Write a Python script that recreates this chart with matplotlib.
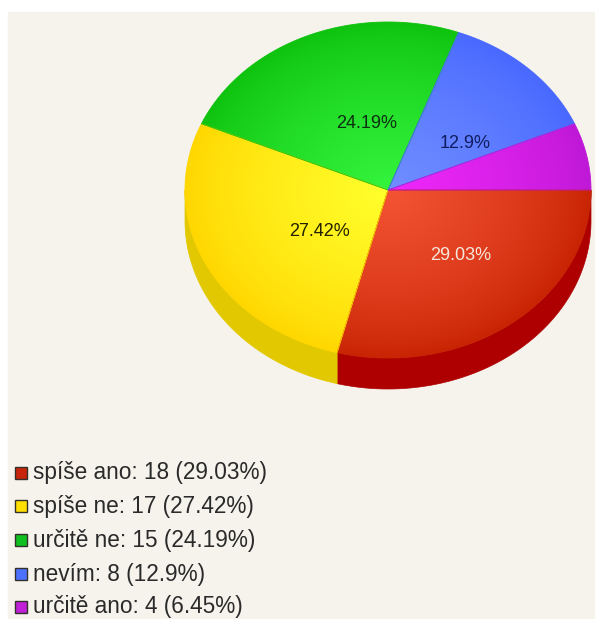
import numpy as np
import matplotlib
matplotlib.use("Agg")
import matplotlib.pyplot as plt
from matplotlib.patches import Polygon, Rectangle

plt.rcParams["font.family"] = ["Liberation Sans", "DejaVu Sans"]

categories = ["spíše ano", "spíše ne", "určitě ne", "nevím", "určitě ano"]
counts = [18, 17, 15, 8, 4]
percents = ["29.03", "27.42", "24.19", "12.9", "6.45"]

# slice shading: colour at the centre, colour at the rim, side wall
inner_colors = [(244, 84, 52), (255, 255, 44), (52, 244, 62), (112, 142, 255), (240, 40, 250)]
outer_colors = [(200, 36, 4), (255, 214, 0), (14, 194, 14), (72, 104, 255), (190, 24, 214)]
side_colors = [(174, 0, 0), (226, 200, 0)]
legend_colors = ["#c8240a", "#ffe000", "#10c020", "#4c70ff", "#c020d8"]
label_colors = ["#f6e6dc", "#222200", "#0c3010", "#101c60", "#000000"]

BG = "#f5f3ec"
cx, cy, rx, ry, depth = 388, 190, 203, 168, 31

fig = plt.figure(figsize=(5.95, 6.19), dpi=100, facecolor="white")
ax = fig.add_axes([0, 0, 1, 1])
ax.set_xlim(0, 595)
ax.set_ylim(619, 0)
ax.axis("off")
ax.add_patch(Rectangle((8, 12), 587, 607, color=BG, zorder=0))

angles = np.cumsum([0] + counts) / sum(counts) * 2 * np.pi


def rim(a0, a1, dy=0):
    t = np.linspace(a0, a1, 200)
    return np.column_stack([cx + rx * np.cos(t), cy + dy + ry * np.sin(t)])


# side wall of the front half, shifted down by the pie depth
for i, col in enumerate(side_colors):
    a0, a1 = angles[i], min(angles[i + 1], np.pi)
    wall = np.vstack([rim(a0, a1), rim(a0, a1, depth)[::-1]])
    ax.add_patch(Polygon(wall, closed=True, fc=np.array(col) / 255, ec=np.array(col) / 255, lw=0.5, zorder=1))

# radial shading for the top face
xx, yy = np.meshgrid(np.arange(cx - rx, cx + rx + 1), np.arange(cy - ry, cy + ry + 1))
dist = np.clip(np.hypot((xx - cx) / rx, (yy - cy) / ry), 0, 1)[..., None]
weight = (1 - dist) ** 0.75

for i in range(len(counts)):
    inner = np.array(inner_colors[i]) / 255
    outer = np.array(outer_colors[i]) / 255
    shade = inner * weight + outer * (1 - weight)
    pts = np.vstack([[cx, cy], rim(angles[i], angles[i + 1])])
    clip = Polygon(pts, closed=True, transform=ax.transData, fc="none", ec="none")
    ax.add_patch(clip)
    im = ax.imshow(shade, extent=(cx - rx, cx + rx, cy + ry, cy - ry), aspect="auto", zorder=2, interpolation="bilinear")
    im.set_clip_path(clip)
    ax.add_patch(Polygon(pts, closed=True, fc="none", ec=outer, lw=0.6, zorder=2.5))

ax.set_xlim(0, 595)
ax.set_ylim(619, 0)

# percentage labels on the slices (the smallest slice has none)
label_x = [461, 320, 367, 465]
label_y = [256, 231, 124, 143]
for i in range(4):
    ax.text(label_x[i], label_y[i], percents[i] + "%", color=label_colors[i], fontsize=13,
            ha="center", va="center", zorder=3)

# legend below the pie
legend_y = [473, 506, 540, 574, 607]
for i, name in enumerate(categories):
    y = legend_y[i]
    ax.add_patch(Rectangle((15, y - 6), 12, 12, fc=legend_colors[i], ec="#33302a", lw=1.0, zorder=3))
    ax.text(33, y, f"{name}: {counts[i]} ({percents[i]}%)", color="#2a2a2a", fontsize=16.3,
            ha="left", va="center", zorder=3)

fig.savefig("out.png", dpi=100, facecolor=fig.get_facecolor())
